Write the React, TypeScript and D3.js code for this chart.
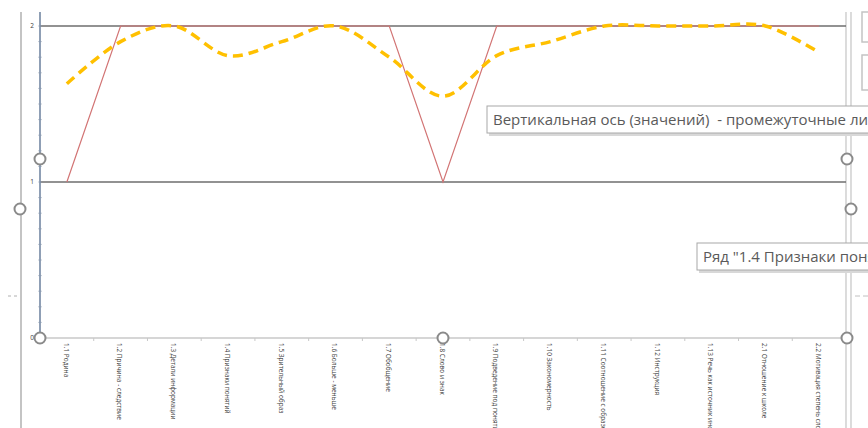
import React from "react";
import * as d3 from "d3";

const categories = [
  "1.1 Родина",
  "1.2 Причина - следствие",
  "1.3 Детали информации",
  "1.4 Признаки понятий",
  "1.5 Зрительный образ",
  "1.6 Больше - меньше",
  "1.7 Обобщение",
  "1.8 Слово и знак",
  "1.9 Подведение под понятие",
  "1.10 Закономерность",
  "1.11 Соотношение с образом",
  "1.12 Инструкция",
  "1.13 Речь как источник информации",
  "2.1 Отношение к школе",
  "2.2 Мотивация степень сложности",
];
const seriesLevel = [1, 2, 2, 2, 2, 2, 2, 1, 2, 2, 2, 2, 2, 2, 2];
const seriesAverage = [1.63, 1.9, 2.0, 1.81, 1.9, 2.0, 1.8, 1.55, 1.81, 1.9, 2.0, 2.0, 2.0, 2.0, 1.83];
const yTicks = [0, 1, 2];
const gridValues = [1, 2];
const tooltip1 = "Вертикальная ось (значений)\u00a0\u00a0- промежуточные линии сетки";
const tooltip2 = "Ряд \"1.4 Признаки понятий\"";

const W = 868;
const H = 428;

export default function App() {
  const left = 40;
  const right = 846;
  const x = d3.scaleBand<string>().domain(categories).range([left, right]).padding(0);
  const bw = x.bandwidth();
  const cx = (c: string) => (x(c) as number) + bw / 2;
  const y = d3.scaleLinear().domain([0, 2]).range([338, 26]);

  const redLine = d3
    .line<number>()
    .x((_, i) => cx(categories[i]))
    .y((d) => y(d));
  const yellowLine = d3
    .line<number>()
    .x((_, i) => cx(categories[i]))
    .y((d) => y(d))
    .curve(d3.curveCardinal.tension(0));

  const minorTicks = d3.range(0, 21).map((i) => i / 10);
  const boundaries = d3.range(0, categories.length + 1).map((i) => left + i * bw);

  const handles: [number, number][] = [
    [40, 159],
    [20, 209],
    [40, 338],
    [443, 338],
    [847, 159],
    [851, 209],
    [847, 338],
  ];

  return (
    <svg
      width={W}
      height={H}
      style={{ position: "fixed", left: 0, top: 0, background: "#fff" }}
      fontFamily="'Open Sans', 'Noto Sans', sans-serif"
    >
      <rect x={0} y={0} width={W} height={H} fill="#ffffff" />
      {/* outer chart area borders */}
      <line x1={21} y1={12} x2={21} y2={H} stroke="#c4c4c4" strokeWidth={2} />
      <line x1={846} y1={12} x2={846} y2={H} stroke="#c4c4c4" strokeWidth={1.2} />
      <line x1={851} y1={12} x2={851} y2={H} stroke="#c4c4c4" strokeWidth={1.2} />
      <line x1={8} y1={296} x2={11} y2={296} stroke="#b0b0b0" strokeWidth={1} />
      <line x1={14} y1={296} x2={17} y2={296} stroke="#b0b0b0" strokeWidth={1} />
      <line x1={855} y1={296} x2={860} y2={296} stroke="#c0c0c0" strokeWidth={1} />
      <line x1={863} y1={296} x2={868} y2={296} stroke="#c0c0c0" strokeWidth={1} />
      <rect x={862} y={12} width={20} height={30} fill="#fff" stroke="#c4c4c4" strokeWidth={1.5} />
      <rect x={862} y={55} width={20} height={35} fill="#fff" stroke="#c4c4c4" strokeWidth={1.5} />

      {/* gridlines */}
      {gridValues.map((v) => (
        <line key={v} x1={left} x2={right} y1={y(v)} y2={y(v)} stroke="#6e6e6e" strokeWidth={1.6} />
      ))}

      {/* x axis */}
      <line x1={left} x2={right} y1={y(0)} y2={y(0)} stroke="#c8c8c8" strokeWidth={1.5} />
      {boundaries.map((b, i) => (
        <line key={i} x1={b} x2={b} y1={y(0)} y2={y(0) + 3} stroke="#c8c8c8" strokeWidth={1} />
      ))}
      {categories.map((c) => (
        <text
          key={c}
          transform={`translate(${cx(c) - 1.5},${y(0) + 5}) rotate(90)`}
          fontSize={6.5}
          fill="#404040"
          dominantBaseline="middle"
        >
          {c}
        </text>
      ))}

      {/* y axis */}
      <line x1={left} x2={left} y1={12} y2={y(0)} stroke="#6a7f9c" strokeWidth={1.5} />
      {minorTicks.map((t) => (
        <line key={t} x1={left - 1.5} x2={left + 1.5} y1={y(t)} y2={y(t)} stroke="#8a9ab0" strokeWidth={1} />
      ))}
      {yTicks.map((t) => (
        <text key={t} x={34} y={y(t)} fontSize={6.5} fill="#404040" textAnchor="end" dominantBaseline="middle">
          {t}
        </text>
      ))}

      {/* series */}
      <path d={redLine(seriesLevel) || ""} fill="none" stroke="#d27474" strokeWidth={1.2} />
      <path
        d={yellowLine(seriesAverage) || ""}
        fill="none"
        stroke="#FFC000"
        strokeWidth={3.5}
        strokeDasharray="10 6"
      />

      {/* tooltips */}
      <rect x={489} y={108} width={400} height={28} fill="#d8d8d8" />
      <rect x={487} y={106} width={400} height={27} fill="#ffffff" stroke="#a8a8a8" strokeWidth={1} />
      <text x={493} y={125} fontSize={15} fill="#5a5a5a">
        {tooltip1}
      </text>
      <rect x={699} y={245} width={200} height={28} fill="#d8d8d8" />
      <rect x={697} y={243} width={200} height={27} fill="#ffffff" stroke="#a8a8a8" strokeWidth={1} />
      <text x={703} y={262} fontSize={15} fill="#5a5a5a">
        {tooltip2}
      </text>

      {/* selection handles */}
      {handles.map(([hx, hy], i) => (
        <circle key={i} cx={hx} cy={hy} r={5.5} fill="#ffffff" stroke="#8a8a8a" strokeWidth={2} />
      ))}
    </svg>
  );
}
